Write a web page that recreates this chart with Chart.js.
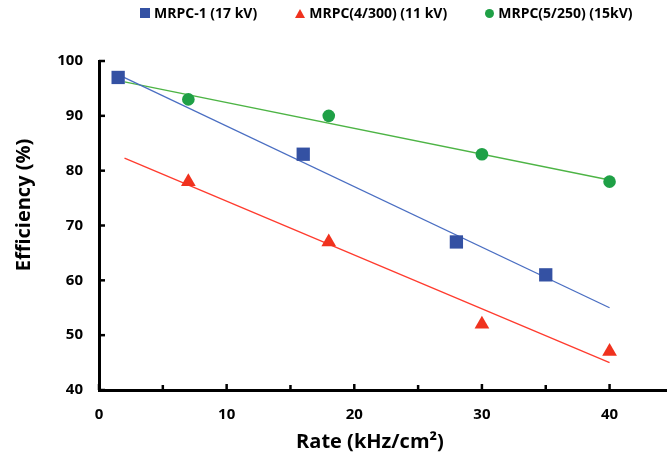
<!DOCTYPE html>
<html>
<head>
<meta charset="utf-8">
<script src="https://cdn.jsdelivr.net/npm/chart.js@4"></script>
<style>
  html, body { margin: 0; padding: 0; background: #fff; }
  #wrap { position: relative; width: 667px; height: 464px; }
  #legend { position: absolute; left: 140px; top: 4px; display: flex; align-items: center; white-space: nowrap;
            font: bold 14px 'Open Sans', 'DejaVu Sans', sans-serif; color: #000; line-height: 18px; }
  .item { display: flex; align-items: center; margin-right: 38px; flex: none; }
  .mark { margin-right: 4px; flex: none; }
  .rect { width: 10px; height: 10px; }
  .triangle { width: 0; height: 0; border-left: 5px solid transparent; border-right: 5px solid transparent; border-bottom-width: 9px; border-bottom-style: solid; }
  .circle { width: 9px; height: 9px; border-radius: 50%; }
</style>
</head>
<body>
<div id="wrap">
  <canvas id="chart" width="667" height="464"></canvas>
  <div id="legend"></div>
</div>
<script>
// measured points
const mrpc1X = [1.5, 16, 28, 35];
const mrpc1Y = [97, 83, 67, 61];
const mrpc4X = [7, 18, 30, 40];
const mrpc4Y = [78, 67, 52, 47];
const mrpc5X = [7, 18, 30, 40];
const mrpc5Y = [93, 90, 83, 78];

// trend line ends
const mrpc1TrendX = [1.5, 40];
const mrpc1TrendY = [97.5, 55];
const mrpc4TrendX = [2, 40];
const mrpc4TrendY = [82.3, 45];
const mrpc5TrendX = [2, 40];
const mrpc5TrendY = [96.2, 78.3];

const seriesNames = ['MRPC-1 (17 kV)', 'MRPC(4/300) (11 kV)', 'MRPC(5/250) (15kV)'];
const seriesColors = ['#3451A3', '#F0321E', '#1FA046'];
const seriesStyles = ['rect', 'triangle', 'circle'];
const xTicks = [0, 5, 10, 15, 20, 25, 30, 35, 40];
const yTicks = [40, 50, 60, 70, 80, 90, 100];

const FONT = "'Open Sans', 'DejaVu Sans', sans-serif";

function toPoints(xs, ys) {
    return xs.map((x, i) => ({ x: x, y: ys[i] }));
}

function trend(xs, ys, color) {
    return {
        label: '',
        data: toPoints(xs, ys),
        showLine: true,
        borderColor: color,
        borderWidth: 1.3,
        pointRadius: 0,
        fill: false,
        order: 2
    };
}

function markers(i, xs, ys, radius) {
    return {
        label: seriesNames[i],
        data: toPoints(xs, ys),
        showLine: false,
        pointStyle: seriesStyles[i],
        pointRadius: radius,
        pointHoverRadius: radius,
        backgroundColor: seriesColors[i],
        borderColor: seriesColors[i],
        borderWidth: 0,
        order: 1
    };
}

// inward tick marks + axis titles
const axisDecor = {
    id: 'axisDecor',
    afterDraw(chart) {
        const ctx = chart.ctx;
        const xs = chart.scales.x;
        const ys = chart.scales.y;
        const area = chart.chartArea;
        ctx.save();
        ctx.strokeStyle = '#000';
        ctx.lineWidth = 2.5;
        xTicks.forEach(v => {
            const px = xs.getPixelForValue(v);
            const len = v % 10 === 0 ? 6 : 5;
            ctx.beginPath();
            ctx.moveTo(px, area.bottom);
            ctx.lineTo(px, area.bottom - len);
            ctx.stroke();
        });
        yTicks.forEach(v => {
            const py = ys.getPixelForValue(v);
            ctx.beginPath();
            ctx.moveTo(area.left, py);
            ctx.lineTo(area.left + 6, py);
            ctx.stroke();
        });
        ctx.fillStyle = '#000';
        ctx.font = 'bold 20px ' + FONT;
        ctx.textAlign = 'center';
        ctx.textBaseline = 'middle';
        ctx.fillText('Rate (kHz/cm²)', 370, 442);
        ctx.translate(24, 205);
        ctx.rotate(-Math.PI / 2);
        ctx.fillText('Efficiency (%)', 0, 0);
        ctx.restore();
    }
};

function buildLegend() {
    const box = document.getElementById('legend');
    seriesNames.forEach((name, i) => {
        const item = document.createElement('div');
        item.className = 'item';
        const mark = document.createElement('span');
        mark.className = 'mark ' + seriesStyles[i];
        if (seriesStyles[i] === 'triangle') {
            mark.style.borderBottomColor = seriesColors[i];
        } else {
            mark.style.background = seriesColors[i];
        }
        const text = document.createElement('span');
        text.textContent = name;
        item.appendChild(mark);
        item.appendChild(text);
        box.appendChild(item);
    });
}

buildLegend();

new Chart(document.getElementById('chart').getContext('2d'), {
    type: 'scatter',
    data: {
        datasets: [
            markers(0, mrpc1X, mrpc1Y, 9.4),
            markers(1, mrpc4X, mrpc4Y, 8.5),
            markers(2, mrpc5X, mrpc5Y, 6.3),
            trend(mrpc1TrendX, mrpc1TrendY, '#4A6EC2'),
            trend(mrpc4TrendX, mrpc4TrendY, '#FF3B2E'),
            trend(mrpc5TrendX, mrpc5TrendY, '#4DB445')
        ]
    },
    options: {
        responsive: false,
        animation: false,
        layout: { autoPadding: false, padding: { top: 61, right: 0, left: 0, bottom: 0 } },
        plugins: {
            tooltip: { enabled: false },
            legend: { display: false }
        },
        scales: {
            x: {
                type: 'linear',
                min: 0,
                max: 44.5,
                afterBuildTicks: s => { s.ticks = xTicks.map(v => ({ value: v })); },
                afterFit: s => { s.height = 74; },
                grid: { display: true, drawOnChartArea: false, drawTicks: false },
                border: { display: true, color: '#000', width: 3 },
                ticks: {
                    padding: 16,
                    color: '#000',
                    font: { family: FONT, size: 15, weight: 'bold' },
                    callback: v => (v % 10 === 0 ? v : '')
                }
            },
            y: {
                type: 'linear',
                min: 40,
                max: 100,
                afterBuildTicks: s => { s.ticks = yTicks.map(v => ({ value: v })); },
                afterFit: s => { s.width = 99; },
                grid: { display: true, drawOnChartArea: false, drawTicks: false },
                border: { display: true, color: '#000', width: 3 },
                ticks: {
                    padding: 16,
                    color: '#000',
                    font: { family: FONT, size: 15, weight: 'bold' }
                }
            }
        }
    },
    plugins: [axisDecor]
});
</script>
</body>
</html>
